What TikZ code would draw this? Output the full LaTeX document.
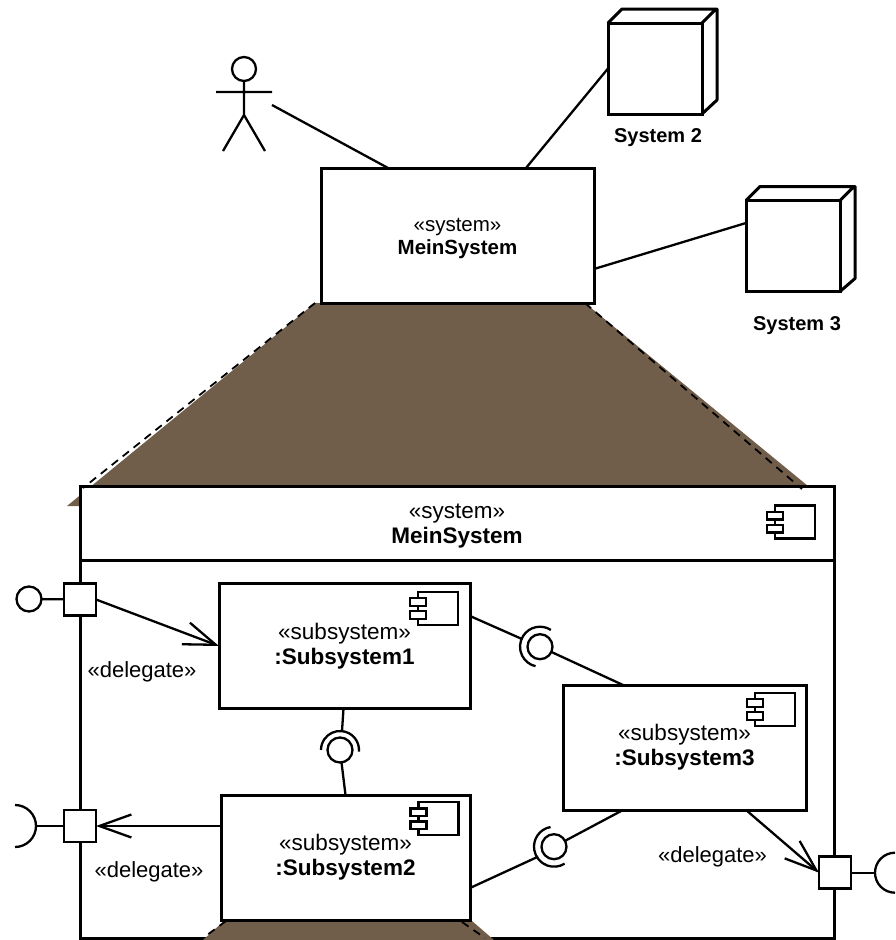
\documentclass[tikz,border=0pt]{standalone}
\usepackage{fontspec}
\setmainfont{Liberation Sans}
\usetikzlibrary{arrows.meta,calc}
\definecolor{cInk}{HTML}{000000}
\definecolor{cBrown}{HTML}{705E4B}
\tikzset{
  elem/.style={draw=cInk,fill=white,line width=3pt,outer sep=0pt,inner sep=0pt,align=center},
  meinbox/.style={elem,minimum width=273pt,minimum height=135pt},
  mainbox/.style={elem,minimum width=754pt,minimum height=452pt},
  subbox/.style={elem,minimum width=#1,minimum height=125pt,font=\fontsize{22.5}{25}\selectfont},
  cube/.style={elem,minimum width=94pt,minimum height=91pt},
  portbox/.style={elem,minimum size=32pt,line width=2.6pt},
  ball/.style={elem,circle,minimum size=25pt,line width=2.3pt},
  lbl/.style={inner sep=0pt,align=center,font=\fontsize{22}{25}\selectfont},
  mainlbl/.style={lbl,font=\fontsize{22.5}{25}\selectfont},
  meinlbl/.style={inner sep=0pt,align=center,font=\fontsize{20.5}{23}\selectfont},
  syslbl/.style={inner sep=0pt,font=\fontsize{20}{23}\selectfont\bfseries},
  conn/.style={line width=2.3pt,draw=cInk},
  deleg/.style={conn,-{Straight Barb[length=32pt,width=23pt,line width=2.3pt]}},
  trace/.style={line width=1.8pt,draw=cInk,dash pattern=on 8pt off 6pt},
  compicon/.pic={
    \draw[line width=2.2pt,fill=white] (0,0) rectangle (40,33);
    \draw[line width=2.2pt,fill=white] (-8,6.5) rectangle (8,14);
    \draw[line width=2.2pt,fill=white] (-8,19.5) rectangle (8,27);
  },
}
\begin{document}
\begin{tikzpicture}[x=1pt,y=-1pt]
  \useasboundingbox (0,0) rectangle (895,940);
  % zoom wedge behind the white boxes
  \fill[cBrown] (315,303) -- (67,506) -- (80,506) -- (80,486) -- (808,486) -- (585,303) -- cycle;
  \node[mainbox] (main) at (457,712) {};
  \fill[cBrown] (203,940) -- (224,921) -- (472,921) -- (494,940) -- cycle;
  \draw[conn,line width=3pt] ([yshift=-74.5pt]main.north west) -- ([yshift=-74.5pt]main.north east);
  \node[mainlbl] (mainname) at (457,526) {«system»\\\textbf{MeinSystem}};
  \pic at (775,505.5) {compicon};

  % top context
  \node[meinbox] (mein) at (457.5,235.5) {};
  \node[meinlbl] (meinname) at (457.5,238.5) {«system»\\\textbf{MeinSystem}};
  \node[cube] (sys2) at (655,68.5) {};
  \node[cube] (sys3) at (793,246) {};
  \draw[elem,fill=none,line join=round] (sys2.north west) -- ++(14,-14) -- ++(95,0) -- ++(0,91) -- (sys2.south east) (sys2.north east) -- ++(14,-14);
  \draw[elem,fill=none,line join=round] (sys3.north west) -- ++(14,-14) -- ++(95,0) -- ++(0,92) -- (sys3.south east) (sys3.north east) -- ++(14,-14);
  \node[syslbl] (sys2lbl) at (658,138) {System 2};
  \node[syslbl] (sys3lbl) at (797,326) {System 3};

  % actor
  \node[ball,minimum size=24pt] (head) at (244,69) {};
  \coordinate (hip) at (244,115);
  \coordinate (actend) at (272,105);
  \draw[conn] (head) -- (hip) (216,92) -- (272,92) (223,151) -- (hip) -- (265,151);
  \draw[conn] (actend) -- ([xshift=-69.5pt]mein.north);
  \draw[conn] ([xshift=68.5pt]mein.north) -- (sys2.west);
  \draw[conn] ([yshift=-33.5pt]mein.east) -- ([yshift=23pt]sys3.west);

  % inner parts
  \node[subbox=251pt] (sub1) at (344.5,646) {«subsystem»\\\textbf{:Subsystem1}};
  \node[subbox=249pt] (sub2) at (345.5,857.5) {«subsystem»\\\textbf{:Subsystem2}};
  \node[subbox=243pt] (sub3) at (684.5,747.5) {«subsystem»\\\textbf{:Subsystem3}};
  \pic at (418,591.7) {compicon};
  \pic at (418.5,802) {compicon};
  \pic at (755,692.7) {compicon};

  % trace lines
  \draw[trace] ([xshift=-6pt]mein.south west) -- ([shift={(3pt,-2pt)}]main.north west);
  \draw[trace] ([xshift=-9pt]mein.south east) -- ([shift={(-32pt,-3pt)}]main.north east);
  \draw[trace] ([shift={(5pt,-1pt)}]sub2.south west) -- ([xshift=-254pt]main.south);
  \draw[trace] ([shift={(-8pt,-2pt)}]sub2.south east) -- ([xshift=28pt]main.south);

  % ports
  \node[portbox] (port1) at (80,599.5) {};
  \node[portbox] (port2) at (80,826) {};
  \node[portbox] (port3) at (835,872.7) {};
  \node[ball] (ballin) at (29,599) {};
  \coordinate (reqL) at (37,826);
  \coordinate (reqR) at (875,872.7);
  \draw[conn] (ballin) -- (port1);
  \draw[conn] (reqL) -- (port2);
  \draw[conn] (port3) -- (reqR);
  \draw[conn] (15,805) arc[start angle=90,end angle=-90,radius=21pt];
  \draw[conn] (895,852.7) arc[start angle=90,end angle=270,radius=20pt];
  \draw[deleg] (port1.east) -- (sub1.west);
  \draw[deleg] ([yshift=31.5pt]sub2.west) -- (port2.east);
  \draw[deleg] ([xshift=61.5pt]sub3.south) -- (port3.west);
  \node[lbl] (del1) at (142,672) {«delegate»};
  \node[lbl] (del2) at (149,872) {«delegate»};
  \node[lbl] (del3) at (712.5,857) {«delegate»};

  % assembly connectors
  \node[ball] (ballA) at (540,646.7) {};
  \node[ball] (ballB) at (340,750) {};
  \node[ball] (ballC) at (554,846.7) {};
  \draw[conn] ([yshift=30pt]sub1.east) -- ([shift={(-18,-7.7)}]ballA.center);
  \draw[conn] (ballA) -- ([xshift=-61.5pt]sub3.north);
  \draw[conn] ([xshift=-1pt]sub1.south) -- ([shift={(2,-19)}]ballB.center);
  \draw[conn] (ballB) -- (sub2.north);
  \draw[conn] ([yshift=-30.5pt]sub2.east) -- ([shift={(-16,10)}]ballC.center);
  \draw[conn] (ballC) -- ([xshift=-61.5pt]sub3.south);
  \draw[conn] ([shift={(57:20pt)}]ballA.center) arc[start angle=57,end angle=257,radius=20pt];
  \draw[conn] ([shift={(-5:19pt)}]ballB.center) arc[start angle=-5,end angle=180,radius=19pt];
  \draw[conn] ([shift={(100:20pt)}]ballC.center) arc[start angle=100,end angle=302,radius=20pt];
\end{tikzpicture}
\end{document}
